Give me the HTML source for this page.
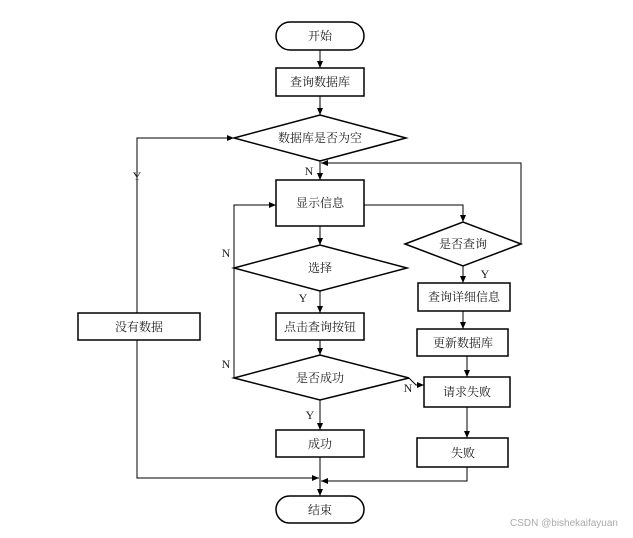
<!DOCTYPE html>
<html><head><meta charset="utf-8"><style>
html,body{margin:0;padding:0;background:#fff;}
svg text{font-family:"Liberation Serif","Noto Serif CJK SC","Noto Sans CJK SC",serif;font-size:12px;fill:#222;}
</style></head><body>
<svg width="633" height="533" viewBox="0 0 633 533" xmlns="http://www.w3.org/2000/svg">
<defs><marker id="a" markerWidth="8" markerHeight="8" refX="7" refY="4" orient="auto" markerUnits="userSpaceOnUse"><path d="M0,1 L7,4 L0,7 Z" fill="#000"/></marker></defs>
<g fill="#fff" stroke="#000" stroke-width="1.5">
<rect x="276" y="22" width="88" height="28" rx="14"/>
<rect x="276" y="68" width="88" height="28"/>
<polygon points="234,138 320,115 406,138 320,161"/>
<rect x="276" y="180" width="88" height="46"/>
<polygon points="405,244 463,222 521,244 463,266"/>
<polygon points="234,268 320,245 407,268 320,291"/>
<rect x="276" y="313" width="88" height="27"/>
<polygon points="234,378 320,355 409,378 320,400"/>
<rect x="276" y="430" width="88" height="27"/>
<rect x="276" y="496" width="88" height="27" rx="13.5"/>
<rect x="78" y="313" width="122" height="27"/>
<rect x="418" y="283" width="92" height="28"/>
<rect x="417" y="329" width="91" height="27"/>
<rect x="424" y="377" width="86" height="30"/>
<rect x="417" y="438" width="91" height="29"/>
</g>
<g fill="none" stroke="#000" stroke-width="1">
<line x1="320" y1="50" x2="320" y2="68" marker-end="url(#a)"/>
<line x1="320" y1="96" x2="320" y2="115" marker-end="url(#a)"/>
<line x1="320" y1="161" x2="320" y2="180" marker-end="url(#a)"/>
<line x1="320" y1="226" x2="320" y2="245" marker-end="url(#a)"/>
<line x1="320" y1="291" x2="320" y2="313" marker-end="url(#a)"/>
<line x1="320" y1="340" x2="320" y2="355" marker-end="url(#a)"/>
<line x1="320" y1="400" x2="320" y2="430" marker-end="url(#a)"/>
<line x1="320" y1="457" x2="320" y2="496" marker-end="url(#a)"/>
<polyline points="137,313 137,138 234,138" marker-end="url(#a)"/>
<polyline points="137,340 137,478 319,478" marker-end="url(#a)"/>
<polyline points="467,467 467,481 321,481" marker-end="url(#a)"/>
<polyline points="364,205 463,205 463,222" marker-end="url(#a)"/>
<polyline points="521,244 521,163 321,163" marker-end="url(#a)"/>
<line x1="463" y1="266" x2="463" y2="283" marker-end="url(#a)"/>
<line x1="463" y1="311" x2="463" y2="329" marker-end="url(#a)"/>
<line x1="467" y1="356" x2="467" y2="377" marker-end="url(#a)"/>
<line x1="467" y1="407" x2="467" y2="438" marker-end="url(#a)"/>
<polyline points="234,378 234,205 276,205" marker-end="url(#a)"/>
<polyline points="409,378 416,385 424,385" marker-end="url(#a)"/>
</g>
<g text-anchor="middle">
<text x="320" y="40">开始</text>
<text x="320" y="86">查询数据库</text>
<text x="320" y="142">数据库是否为空</text>
<text x="320" y="207">显示信息</text>
<text x="463" y="248">是否查询</text>
<text x="320" y="272">选择</text>
<text x="320" y="331">点击查询按钮</text>
<text x="320" y="382">是否成功</text>
<text x="320" y="448">成功</text>
<text x="320" y="514">结束</text>
<text x="139" y="331">没有数据</text>
<text x="464" y="301">查询详细信息</text>
<text x="463" y="347">更新数据库</text>
<text x="467" y="396">请求失败</text>
<text x="463" y="457">失败</text>
<text x="137" y="180">Y</text>
<text x="309" y="175">N</text>
<text x="485" y="278">Y</text>
<text x="226" y="257">N</text>
<text x="303" y="302">Y</text>
<text x="226" y="368">N</text>
<text x="408" y="392">N</text>
<text x="310" y="419">Y</text>
</g>
<text x="510" y="526" style="font-family:'Liberation Sans',sans-serif;font-size:10px;fill:#aaa">CSDN @bishekaifayuan</text>
</svg>
</body></html>
